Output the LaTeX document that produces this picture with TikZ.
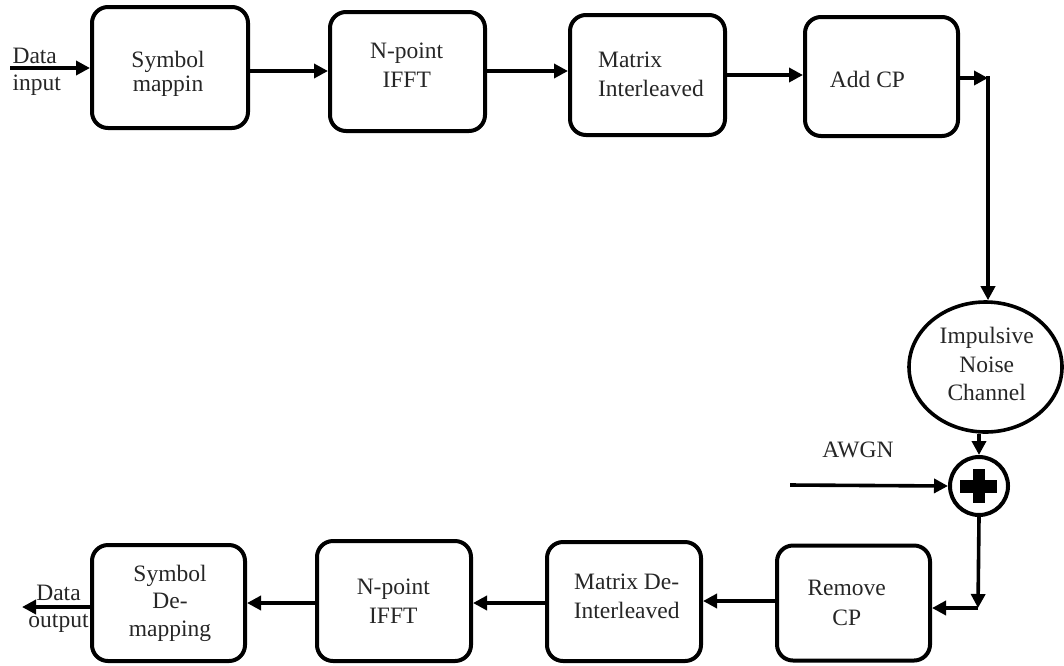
\documentclass[tikz,border=0pt]{standalone}
\usepackage{fontspec}
\setmainfont{Liberation Serif}
\usetikzlibrary{arrows.meta,shapes.geometric}
\begin{document}
\begin{tikzpicture}[x=1pt,y=-1pt,
  blk/.style={draw,line width=4pt,rounded corners=16pt,inner sep=0pt},
  lbl/.style={font=\fontsize{23.5}{29}\selectfont,align=center,inner sep=0pt,text=black!85},
  arr/.style={line width=3.6pt,-{Triangle[length=14pt,width=14pt]}}]
\useasboundingbox (0,0) rectangle (1064,665);

% boxes
\node[blk,minimum width=156pt,minimum height=121pt] (b1) at (170,67.5) {};
\node[blk,minimum width=155pt,minimum height=119pt] (b2) at (407.5,71.5) {};
\node[blk,minimum width=155pt,minimum height=120pt] (b3) at (647.5,75) {};
\node[blk,minimum width=153pt,minimum height=119pt] (b4) at (881.5,76.5) {};
\node[blk,minimum width=153pt,minimum height=115pt] (b5) at (853.5,603) {};
\node[blk,minimum width=154pt,minimum height=119pt] (b6) at (624,601.5) {};
\node[blk,minimum width=154pt,minimum height=120pt] (b7) at (394,601) {};
\node[blk,minimum width=153pt,minimum height=116pt] (b8) at (168.5,603) {};
\node[draw,ellipse,line width=3.6pt,minimum width=153pt,minimum height=130pt,inner sep=0pt] (e) at (985.5,367) {};
\node[draw,circle,line width=4pt,minimum size=58pt,inner sep=0pt] (p) at (979,486) {};
\fill (960,480) rectangle (997,492.5);
\fill (972.5,469) rectangle (985,503);

% labels
\node[lbl,font=\fontsize{23.5}{24}\selectfont] (t1) at (168,73.5) {Symbol\\mappin};
\node[lbl] (t2) at (406.7,65) {N-point\\IFFT};
\node[lbl,align=left] (t3) at (651,74) {Matrix\\Interleaved};
\node[lbl] (t4) at (867.5,79.5) {Add CP};
\node[lbl,font=\fontsize{23.5}{28.5}\selectfont] (t5) at (986.7,364) {Impulsive\\Noise\\Channel};
\node[lbl] (t6) at (858,449.7) {AWGN};
\node[lbl,font=\fontsize{23.5}{30}\selectfont] (t7) at (846.7,603) {Remove\\CP};
\node[lbl] (t8) at (626.7,596.5) {Matrix De-\\Interleaved};
\node[lbl] (t9) at (393.3,601.5) {N-point\\IFFT};
\node[lbl,font=\fontsize{23.5}{27.5}\selectfont] (t10) at (170,603.3) {Symbol\\De-\\mapping};
\node[lbl,align=left,font=\fontsize{23.5}{27}\selectfont] (t11) at (36.7,71.7) {Data\\input};
\node[lbl,font=\fontsize{23.5}{27}\selectfont] (t12) at (58.5,608.3) {Data\\output};

% level coordinates
\coordinate (din) at (10,68);
\coordinate (y12) at (0,71);
\coordinate (y23) at (0,71);
\coordinate (y34) at (0,75);
\coordinate (c1) at (988,78);
\coordinate (aw) at (790,485);
\coordinate (c2) at (978,608);
\coordinate (y56) at (0,601);
\coordinate (y67) at (0,603);
\coordinate (y78) at (0,603);
\coordinate (dout) at (22,607);

% connectors
\draw[arr] (din) -- (din -| b1.west);
\draw[arr] (b1.east |- y12) -- (b2.west |- y12);
\draw[arr] (b2.east |- y23) -- (b3.west |- y23);
\draw[arr] (b3.east |- y34) -- (b4.west |- y34);
\draw[arr] (b4.east |- c1) -- (c1);
\draw[arr] ([yshift=1.8pt]c1) -- (c1 |- e.north);
\draw[arr] (p.north |- e.south) -- (p.north);
\draw[arr] (aw) -- (p.west);
\draw[arr] (p.south) -- (c2);
\draw[arr] (c2) -- (c2 -| b5.east);
\draw[arr] (b5.west |- y56) -- (b6.east |- y56);
\draw[arr] (b6.west |- y67) -- (b7.east |- y67);
\draw[arr] (b7.west |- y78) -- (b8.east |- y78);
\draw[arr] (b8.west |- dout) -- (dout);
\end{tikzpicture}
\end{document}
